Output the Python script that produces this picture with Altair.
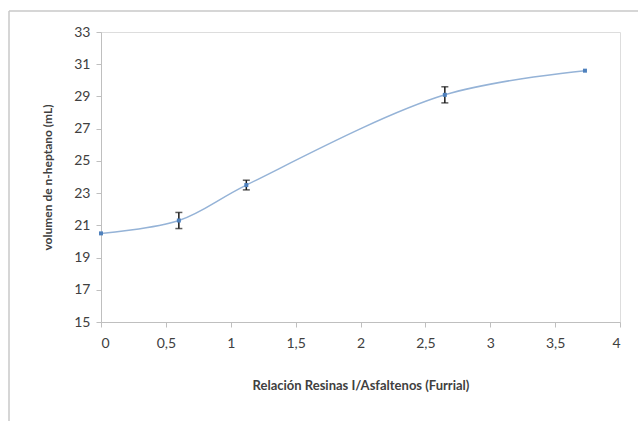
import altair as alt
import pandas as pd

relacion = [0.0, 0.6, 1.12, 2.65, 3.73]
volumen = [20.5, 21.3, 23.5, 29.1, 30.6]
error = [0.0, 0.5, 0.3, 0.5, 0.0]
x_ticks = [0, 0.5, 1, 1.5, 2, 2.5, 3, 3.5, 4]
y_ticks = [15, 17, 19, 21, 23, 25, 27, 29, 31, 33]

df = pd.DataFrame({"x": relacion, "y": volumen, "e": error})
df["lo"] = df["y"] - df["e"]
df["hi"] = df["y"] + df["e"]
df_err = df[df["e"] > 0]

font = "Lato"

xscale = alt.Scale(domain=[0, 4], nice=False)
yscale = alt.Scale(domain=[15, 33], nice=False)

xaxis = alt.Axis(
    title="Relación Resinas I/Asfaltenos (Furrial)",
    values=x_ticks,
    labelExpr="replace(format(datum.value, ''), '.', ',')",
    labelOverlap=False,
    grid=False, domainColor="#bfbfbf", tickColor="#bfbfbf", tickSize=5,
    labelFont=font, labelFontSize=14, labelColor="#404040", labelPadding=9,
    titleFont=font, titleFontSize=13, titleFontWeight="bold", titleColor="#404040",
    titlePadding=29,
)
yaxis = alt.Axis(
    title="volumen de n-heptano (mL)",
    values=y_ticks,
    tickCount=10,
    labelOverlap=False,
    grid=False, domainColor="#bfbfbf", tickColor="#bfbfbf", tickSize=5,
    labelFont=font, labelFontSize=14, labelColor="#404040", labelPadding=6,
    titleFont=font, titleFontSize=12, titleFontWeight="bold", titleColor="#404040",
    titlePadding=19,
)

X = lambda f: alt.X(f, scale=xscale, axis=xaxis)
Y = lambda f: alt.Y(f, scale=yscale, axis=yaxis)

base = alt.Chart(df)

line = base.mark_line(interpolate="catmull-rom", color="#95b3d7", strokeWidth=1.5).encode(
    x=X("x:Q"), y=Y("y:Q"),
)

pts = base.mark_point(shape="square", filled=True, size=16, color="#4f81bd", opacity=1).encode(
    x=X("x:Q"), y=Y("y:Q"),
)

ebase = alt.Chart(df_err)
rules = ebase.mark_rule(color="#1a1a1a", strokeWidth=1.5).encode(
    x=X("x:Q"), y=Y("lo:Q"), y2="hi:Q",
)
cap_lo = ebase.mark_tick(color="#1a1a1a", thickness=1.5, size=7, orient="horizontal").encode(
    x=X("x:Q"), y=Y("lo:Q"),
)
cap_hi = ebase.mark_tick(color="#1a1a1a", thickness=1.5, size=7, orient="horizontal").encode(
    x=X("x:Q"), y=Y("hi:Q"),
)

# decorative outer frame (top and left edges of the chart area border)
frame_top = alt.Chart().mark_rule(color="#c8c8c8", strokeWidth=1.5).encode(
    x=alt.value(-92), x2=alt.value(537), y=alt.value(-21)
)
frame_left = alt.Chart().mark_rule(color="#c8c8c8", strokeWidth=1.5).encode(
    x=alt.value(-92), y=alt.value(-21), y2=alt.value(389)
)

chart = alt.layer(line, rules, cap_lo, cap_hi, pts, frame_top, frame_left).properties(
    width=519, height=290,
    autosize=alt.AutoSizeParams(type="none"),
    padding={"left": 101, "top": 32, "right": 18, "bottom": 99},
).configure_view(stroke=None).configure(background="white")

chart.save("out.html", embed_options={"renderer": "svg", "actions": False})
